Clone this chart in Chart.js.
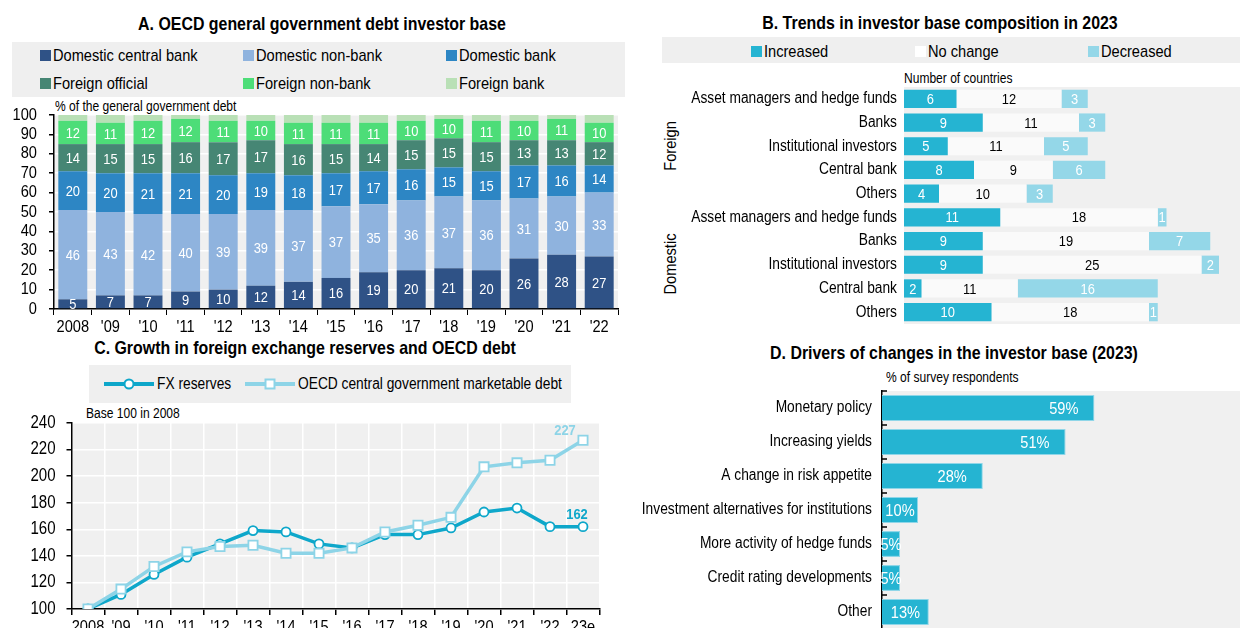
<!DOCTYPE html>
<html>
<head>
<meta charset="utf-8">
<script src="https://cdn.jsdelivr.net/npm/chart.js@4.4.0/dist/chart.umd.min.js"></script>
<style>
body{margin:0;width:1240px;height:628px;overflow:hidden;background:#fff;position:relative;
  font-family:"Liberation Sans",Arial,sans-serif;color:#000}
.title{position:absolute;font-weight:bold;font-size:18.5px;line-height:18px;white-space:nowrap;transform:translateX(-50%) scaleX(0.86)}
.lgbox{position:absolute;background:#efefef}
.lg{position:absolute;font-size:17px;line-height:17px;height:17px;white-space:nowrap;display:flex;align-items:center}
.sw{width:11px;height:11px;margin-right:2px;flex:none}
.t{display:inline-block;transform:scaleX(0.86);transform-origin:left center}
.note{position:absolute;font-size:14px;line-height:14px;white-space:nowrap;transform:scaleX(0.86);transform-origin:left top}
.grp{position:absolute;font-size:17px;line-height:17px;white-space:nowrap;transform:translate(-50%,-50%) rotate(-90deg) scaleX(0.86)}
canvas{position:absolute}
</style>
</head>
<body>
<!-- panel A -->
<div class="title" style="left:322px;top:15px">A. OECD general government debt investor base</div>
<div class="lgbox" style="left:12px;top:42px;width:613px;height:55px"></div>
<div class="lg" style="left:40px;top:47px"><span class="sw" style="background:#2f5286"></span><span class="t">Domestic central bank</span></div>
<div class="lg" style="left:243px;top:47px"><span class="sw" style="background:#8fb3de"></span><span class="t">Domestic non-bank</span></div>
<div class="lg" style="left:446px;top:47px"><span class="sw" style="background:#2d86c4"></span><span class="t">Domestic bank</span></div>
<div class="lg" style="left:40px;top:75px"><span class="sw" style="background:#468674"></span><span class="t">Foreign official</span></div>
<div class="lg" style="left:243px;top:75px"><span class="sw" style="background:#4ddd78"></span><span class="t">Foreign non-bank</span></div>
<div class="lg" style="left:446px;top:75px"><span class="sw" style="background:#b9e0b6"></span><span class="t">Foreign bank</span></div>
<div class="note" style="left:55px;top:99px">% of the general government debt</div>

<!-- panel B -->
<div class="title" style="left:940px;top:14px">B. Trends in investor base composition in 2023</div>
<div class="lgbox" style="left:662px;top:37px;width:578px;height:26px"></div>
<div class="lg" style="left:751px;top:43px"><span class="sw" style="background:#25b4d2"></span><span class="t">Increased</span></div>
<div class="lg" style="left:915px;top:43px"><span class="sw" style="background:#fff"></span><span class="t">No change</span></div>
<div class="lg" style="left:1088px;top:43px"><span class="sw" style="background:#94d7e8"></span><span class="t">Decreased</span></div>
<div class="note" style="left:904px;top:71px">Number of countries</div>
<div class="grp" style="left:670px;top:146px">Foreign</div>
<div class="grp" style="left:670px;top:264px">Domestic</div>

<!-- panel C -->
<div class="title" style="left:305px;top:339px">C. Growth in foreign exchange reserves and OECD debt</div>
<div class="lgbox" style="left:89px;top:365px;width:482px;height:38px"></div>
<div class="lg" style="left:104px;top:375px;font-size:16px">
  <svg width="50" height="14" style="margin-right:3px"><line x1="0" y1="7" x2="50" y2="7" stroke="#0ea7ca" stroke-width="4"/><circle cx="25" cy="7" r="4.5" fill="#fff" stroke="#0ea7ca" stroke-width="2"/></svg><span class="t">FX reserves</span></div>
<div class="lg" style="left:245px;top:375px;font-size:16px">
  <svg width="50" height="14" style="margin-right:3px"><line x1="0" y1="7" x2="50" y2="7" stroke="#8dd4e7" stroke-width="4"/><rect x="20.5" y="2.5" width="9" height="9" fill="#fff" stroke="#8dd4e7" stroke-width="2"/></svg><span class="t">OECD central government marketable debt</span></div>
<div class="note" style="left:86px;top:406px">Base 100 in 2008</div>

<!-- panel D -->
<div class="title" style="left:954px;top:344px">D. Drivers of changes in the investor base (2023)</div>
<div class="note" style="left:886px;top:370px">% of survey respondents</div>

<canvas id="cA" width="630" height="240" style="left:0;top:100px"></canvas>
<canvas id="cB" width="614" height="239" style="left:640px;top:85px"></canvas>
<canvas id="cC" width="630" height="244" style="left:0;top:405px"></canvas>
<canvas id="cD" width="612" height="244" style="left:630px;top:385px"></canvas>

<script>
const FONT = '"Liberation Sans", Arial, sans-serif';
const NARROW = 0.86;
Chart.defaults.font.family = FONT;
Chart.defaults.color = '#000';
Chart.defaults.animation = false;

// A. investor base, % of general government debt
const yearsA = ["2008", "'09", "'10", "'11", "'12", "'13", "'14", "'15", "'16", "'17", "'18", "'19", "'20", "'21", "'22"];
const domCentralBank = [5, 7, 7, 9, 10, 12, 14, 16, 19, 20, 21, 20, 26, 28, 27];
const domNonBank = [46, 43, 42, 40, 39, 39, 37, 37, 35, 36, 37, 36, 31, 30, 33];
const domBank = [20, 20, 21, 21, 20, 19, 18, 17, 17, 16, 15, 15, 17, 16, 14];
const fgnOfficial = [14, 15, 15, 16, 17, 17, 16, 15, 14, 15, 15, 15, 13, 13, 12];
const fgnNonBank = [12, 11, 12, 12, 11, 10, 11, 11, 11, 10, 10, 11, 10, 11, 10];
const fgnBank = [3, 4, 3, 2, 3, 3, 4, 4, 4, 3, 2, 3, 3, 2, 4];

// B. trends in 2023, number of countries
const catsB = ["Asset managers and hedge funds", "Banks", "Institutional investors", "Central bank", "Others",
               "Asset managers and hedge funds", "Banks", "Institutional investors", "Central bank", "Others"];
const increased = [6, 9, 5, 8, 4, 11, 9, 9, 2, 10];
const noChange = [12, 11, 11, 9, 10, 18, 19, 25, 11, 18];
const decreased = [3, 3, 5, 6, 3, 1, 7, 2, 16, 1];

// C. base 100 in 2008
const yearsC = ["2008", "'09", "'10", "'11", "'12", "'13", "'14", "'15", "'16", "'17", "'18", "'19", "'20", "'21", "'22", "23e"];
const fxReserves = [100, 111, 126, 139, 149, 159, 158, 149, 146, 156, 156, 161, 173, 176, 162, 162];
const oecdDebt = [100, 115, 132, 143, 147, 148, 142, 142, 146, 158, 163, 169, 207, 210, 212, 227];

// D. % of survey respondents
const catsD = ["Monetary policy", "Increasing yields", "A change in risk appetite", "Investment alternatives for institutions",
               "More activity of hedge funds", "Credit rating developments", "Other"];
const driversD = [59, 51, 28, 10, 5, 5, 13];

// narrow text: squeeze every canvas label horizontally (no Arial Narrow installed)
function narrowCtx(id) {
  const ctx = document.getElementById(id).getContext('2d');
  const orig = ctx.fillText;
  ctx.fillText = function (t, x, y, mw) {
    this.save();
    this.translate(x, y);
    this.scale(NARROW, 1);
    if (mw === undefined) orig.call(this, t, 0, 0);
    else orig.call(this, t, 0, 0, mw / NARROW);
    this.restore();
  };
  return ctx;
}

// keep chart area where the layout padding says
function noPad(s) {
  s.paddingTop = 0; s.paddingBottom = 0; s.paddingLeft = 0; s.paddingRight = 0;
}

const plotBg = {
  id: 'plotBg',
  beforeDraw(chart, args, o) {
    const c = chart.chartArea, ctx = chart.ctx;
    ctx.save();
    ctx.fillStyle = o.color || '#f0f0f0';
    ctx.fillRect(c.left, c.top, c.right - c.left, c.bottom - c.top);
    ctx.restore();
  }
};

const segLabels = {
  id: 'segLabels',
  afterDatasetsDraw(chart, args, o) {
    const ctx = chart.ctx;
    ctx.save();
    ctx.font = o.size + 'px ' + FONT;
    ctx.textAlign = 'center';
    ctx.textBaseline = 'middle';
    chart.data.datasets.forEach((ds, i) => {
      if (!o.colors[i]) return;
      chart.getDatasetMeta(i).data.forEach((el, j) => {
        const p = el.getProps(['x', 'y', 'base', 'horizontal'], true);
        ctx.fillStyle = o.colors[i];
        if (p.horizontal) ctx.fillText(ds.data[j], (p.x + p.base) / 2, p.y + 1);
        else ctx.fillText(ds.data[j], p.x, (p.y + p.base) / 2 + 1);
      });
    });
    ctx.restore();
  }
};

// panel A
new Chart(narrowCtx('cA'), {
  type: 'bar',
  data: {
    labels: yearsA,
    datasets: [
      { label: 'Domestic central bank', data: domCentralBank, backgroundColor: '#2f5286' },
      { label: 'Domestic non-bank', data: domNonBank, backgroundColor: '#8fb3de' },
      { label: 'Domestic bank', data: domBank, backgroundColor: '#2d86c4' },
      { label: 'Foreign official', data: fgnOfficial, backgroundColor: '#468674' },
      { label: 'Foreign non-bank', data: fgnNonBank, backgroundColor: '#4ddd78' },
      { label: 'Foreign bank', data: fgnBank, backgroundColor: '#b9e0b6' }
    ]
  },
  options: {
    responsive: false,
    layout: { padding: { top: 15, right: 12 } },
    datasets: { bar: { barPercentage: 0.77, categoryPercentage: 1 } },
    plugins: {
      legend: { display: false }, tooltip: { enabled: false },
      plotBg: { color: '#f0f0f0' },
      segLabels: { size: 15, colors: ['#fff', '#fff', '#fff', '#fff', '#fff', null] }
    },
    scales: {
      x: {
        stacked: true,
        grid: { drawOnChartArea: false, offset: true, tickLength: 6, tickColor: '#000' },
        border: { color: '#000', width: 1.5 },
        ticks: { font: { size: 17 }, padding: 2, maxRotation: 0, autoSkip: false },
        afterFit(s) { s.height = 31; noPad(s); }
      },
      y: {
        stacked: true, min: 0, max: 100,
        ticks: { stepSize: 10, font: { size: 17 }, padding: 12, autoSkip: false },
        grid: { color: '#fff', lineWidth: 1.5, tickLength: 5, tickColor: '#000' },
        border: { color: '#000', width: 1.5 },
        afterFit(s) { s.width = 54; noPad(s); }
      }
    }
  },
  plugins: [plotBg, segLabels]
});

// panel B
new Chart(narrowCtx('cB'), {
  type: 'bar',
  data: {
    labels: catsB,
    datasets: [
      { label: 'Increased', data: increased, backgroundColor: '#25b4d2' },
      { label: 'No change', data: noChange, backgroundColor: '#fafafa' },
      { label: 'Decreased', data: decreased, backgroundColor: '#94d7e8' }
    ]
  },
  options: {
    responsive: false,
    indexAxis: 'y',
    layout: { padding: { top: 2 } },
    datasets: { bar: { barPercentage: 0.77, categoryPercentage: 1 } },
    plugins: {
      legend: { display: false }, tooltip: { enabled: false },
      plotBg: { color: '#f0f0f0' },
      segLabels: { size: 15, colors: ['#fff', '#000', '#fff'] }
    },
    scales: {
      x: { stacked: true, min: 0, max: 40, display: false },
      y: {
        stacked: true,
        grid: { display: false, drawTicks: false }, border: { display: false },
        ticks: { font: { size: 16 }, padding: 7, autoSkip: false },
        afterFit(s) { s.width = 264; noPad(s); }
      }
    }
  },
  plugins: [plotBg, segLabels]
});

// panel C
const endLabels = {
  id: 'endLabels',
  afterDatasetsDraw(chart, args, o) {
    const ctx = chart.ctx;
    ctx.save();
    ctx.font = 'bold 15px ' + FONT;
    ctx.textAlign = 'center';
    ctx.textBaseline = 'middle';
    chart.data.datasets.forEach((ds, i) => {
      const pts = chart.getDatasetMeta(i).data;
      const last = pts[pts.length - 1];
      ctx.fillStyle = ds.borderColor;
      ctx.fillText(ds.data[ds.data.length - 1], last.x + o.dx[i], last.y + o.dy[i]);
    });
    ctx.restore();
  }
};

new Chart(narrowCtx('cC'), {
  type: 'line',
  data: {
    labels: yearsC,
    datasets: [
      { label: 'FX reserves', data: fxReserves, borderColor: '#0ea7ca', borderWidth: 3.5,
        pointStyle: 'circle', pointRadius: 4.5, pointBorderWidth: 1.8, pointBackgroundColor: '#fff',
        pointBorderColor: '#0ea7ca', order: 2 },
      { label: 'OECD central government marketable debt', data: oecdDebt, borderColor: '#8dd4e7', borderWidth: 3.5,
        pointStyle: 'rect', pointRadius: 6.5, pointBorderWidth: 1.8, pointBackgroundColor: '#fff',
        pointBorderColor: '#8dd4e7', order: 1 }
    ]
  },
  options: {
    responsive: false,
    layout: { padding: { top: 18, right: 30.5 } },
    plugins: {
      legend: { display: false }, tooltip: { enabled: false }, plotBg: { color: '#f0f0f0' },
      endLabels: { dx: [-6, -18], dy: [-12, -9] }
    },
    scales: {
      x: {
        offset: true,
        grid: { offset: true, color: '#fff', lineWidth: 1.5, tickLength: 6, tickColor: '#000' },
        border: { color: '#000', width: 1.5 },
        ticks: { font: { size: 17 }, padding: 2, maxRotation: 0, autoSkip: false },
        afterFit(s) { s.height = 40; noPad(s); }
      },
      y: {
        min: 100, max: 240,
        ticks: { stepSize: 20, font: { size: 17.5 }, padding: 11, autoSkip: false },
        grid: { color: '#fff', lineWidth: 1.5, tickLength: 5, tickColor: '#000' },
        border: { color: '#000', width: 1.5 },
        afterFit(s) { s.width = 71.5; noPad(s); }
      }
    }
  },
  plugins: [plotBg, endLabels]
});

// panel D
const barEndLabels = {
  id: 'barEndLabels',
  afterDatasetsDraw(chart) {
    const ctx = chart.ctx;
    ctx.save();
    ctx.font = '17px ' + FONT;
    ctx.textBaseline = 'middle';
    ctx.fillStyle = '#fff';
    const ds = chart.data.datasets[0];
    chart.getDatasetMeta(0).data.forEach((el, j) => {
      const p = el.getProps(['x', 'y', 'base'], true);
      const txt = ds.data[j] + '%';
      if (p.x - p.base > 60) { ctx.textAlign = 'right'; ctx.fillText(txt, p.x - 16, p.y + 1); }
      else { ctx.textAlign = 'center'; ctx.fillText(txt, (p.x + p.base) / 2, p.y + 1); }
    });
    // small inward ticks on the category axis
    const ys = chart.scales.y, step = (ys.bottom - ys.top) / catsD.length;
    ctx.strokeStyle = '#000';
    ctx.lineWidth = 1.5;
    for (let k = 0; k <= catsD.length; k++) {
      const y = ys.top + k * step;
      ctx.beginPath(); ctx.moveTo(chart.chartArea.left, y); ctx.lineTo(chart.chartArea.left + 5, y); ctx.stroke();
    }
    ctx.restore();
  }
};

new Chart(narrowCtx('cD'), {
  type: 'bar',
  data: {
    labels: catsD,
    datasets: [{ label: 'Drivers', data: driversD, backgroundColor: '#25b4d2', borderColor: '#8fd6e8', borderWidth: 1 }]
  },
  options: {
    responsive: false,
    indexAxis: 'y',
    layout: { padding: { top: 6 } },
    datasets: { bar: { barPercentage: 0.76, categoryPercentage: 1 } },
    plugins: { legend: { display: false }, tooltip: { enabled: false }, plotBg: { color: '#f0f0f0' } },
    scales: {
      x: { min: 0, max: 100, display: false },
      y: {
        grid: { display: false, drawTicks: false },
        border: { color: '#000', width: 1.5 },
        ticks: { font: { size: 16 }, padding: 10, autoSkip: false },
        afterFit(s) { s.width = 252; noPad(s); }
      }
    }
  },
  plugins: [plotBg, barEndLabels]
});
</script>
</body>
</html>
